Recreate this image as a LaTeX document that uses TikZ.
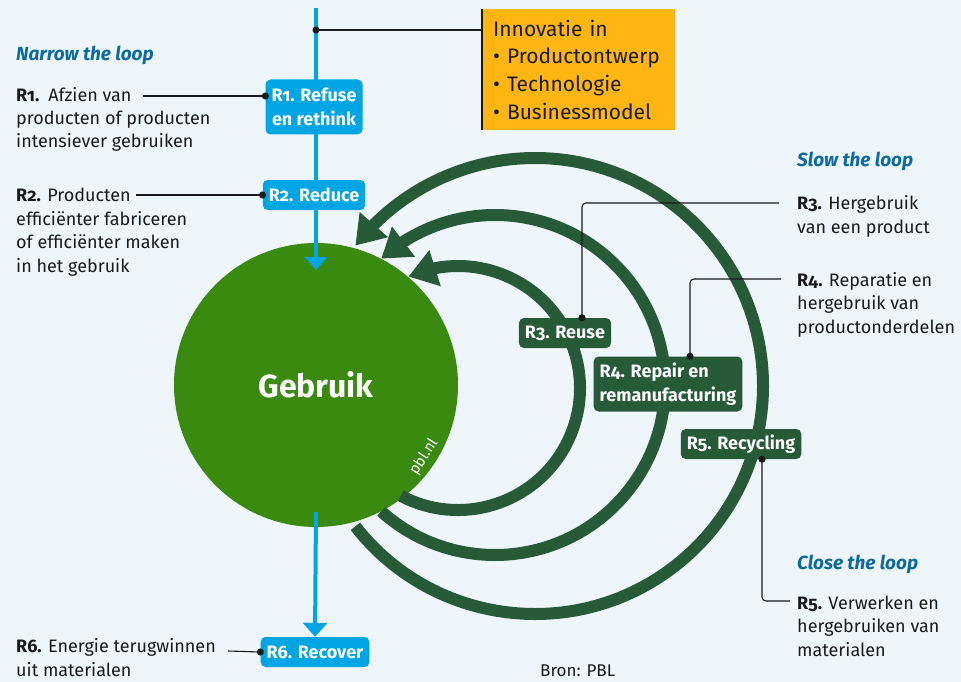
\documentclass[tikz,border=0pt]{standalone}
\usepackage{fontspec}
\setmainfont{Fira Sans}[RawFeature=+onum]
\usetikzlibrary{arrows.meta,bending,calc}
\definecolor{bg}{HTML}{EEF6FC}
\definecolor{skyb}{HTML}{00A6E4}
\definecolor{dgreen}{HTML}{275A37}
\definecolor{cgreen}{HTML}{3B8A10}
\definecolor{tblue}{HTML}{0B6AA0}
\definecolor{orng}{HTML}{FFB612}
\definecolor{txt}{HTML}{1A1A1A}
\tikzset{
  bluebox/.style={fill=skyb, text=white, rounded corners=5pt, font=\bfseries\fontsize{18}{24}\selectfont, inner xsep=6pt, inner ysep=2pt, minimum height=30pt, align=center},
  twoline/.style={minimum height=55pt},
  greenbox/.style={bluebox, fill=dgreen, align=left},
  desc/.style={anchor=base west, inner sep=0pt, align=left, font=\fontsize{18}{23.5}\selectfont, text=txt},
  loophead/.style={anchor=base west, inner sep=0pt, font=\bfseries\itshape\fontsize{19}{23}\selectfont, text=tblue},
  conn/.style={draw=txt, line width=1.1pt},
  enddot/.style={-{Circle[length=7pt]}, shorten >=-3.5pt},
  startdot/.style={{Circle[length=7pt]}-, shorten <=-3.5pt},
  loopline/.style={draw=dgreen, line width=12pt, -{Triangle[width=36pt,length=28pt]}},
  flow/.style={draw=skyb, line width=4pt},
}
\begin{document}
\begin{tikzpicture}[x=1pt,y=-1pt]
\fill[bg] (0,0) rectangle (961,682);
\useasboundingbox (0,0) rectangle (961,682);

% central circle
\node[circle, fill=cgreen, minimum size=284pt, inner sep=0pt, text=white, font=\bfseries\fontsize{32}{32}\selectfont] (use) at (316,385) {Gebruik};
\node[rotate=57, text=white, font=\fontsize{15}{15}\selectfont, inner sep=0pt] (pbl) at (424,457) {pbl.nl};

% loops
\coordinate (cin) at (458,388);
\coordinate (cmid) at (495,385);
\coordinate (cout) at (535,386);
\draw[loopline] ($(cin)+(118:122)$) arc[start angle=118, end angle=-114, radius=122];
\draw[loopline] ($(cmid)+(132:170)$) arc[start angle=132, end angle=-132, radius=170];
\draw[loopline] ($(cout)+(142:228)$) arc[start angle=142, end angle=-142, radius=228];

% top flow
\coordinate (top) at (316,8);
\coordinate (tip1) at (316,270);
\draw[flow, -{Triangle[width=22pt,length=13pt]}] (top) -- (tip1);

% boxes
\node[bluebox, twoline] (b1) at (314,107) {R1. Refuse\\en rethink};
\node[bluebox] (b2) at (314,195) {R2. Reduce};
\node[greenbox] (b3) at (565,333) {R3. Reuse};
\node[greenbox, twoline] (b4) at (668,384) {R4. Repair en\\remanufacturing};
\node[greenbox] (b5) at (741,444) {R5. Recycling};
\node[bluebox] (b6) at (315,652) {R6. Recover};

% bottom flow
\coordinate (bstart) at (316,512);
\draw[flow, -{Triangle[width=24pt,length=14pt]}] (bstart) -- (b6.north);

% innovation box
\node[fill=orng, anchor=north west, inner xsep=11pt, inner ysep=0pt, text width=171pt, minimum height=121pt, align=left, font=\fontsize{21}{27.7}\selectfont, text=txt] (innov) at (482,9) {Innovatie in\\\textbullet\hspace{7pt}Productontwerp\\\textbullet\hspace{7pt}Technologie\\\textbullet\hspace{7pt}Businessmodel};
\draw[conn] (innov.north west) -- (innov.south west);
\coordinate (d0) at (316,30);
\draw[conn, startdot] (d0) -- (innov.west |- d0);

% headings
\node[loophead] (narrow) at (16,61) {Narrow the loop};
\node[loophead] (slow) at (797,166) {Slow the loop};
\node[loophead] (close) at (797,569) {Close the loop};

% left descriptions (base = last line)
\node[desc] (t1) at (16,148) {\textbf{R1.}\hspace{0.5em}Afzien van\\producten of producten\\intensiever gebruiken};
\node[desc] (t2) at (16,272) {\textbf{R2.} Producten\\efficiënter fabriceren\\of efficiënter maken\\in het gebruik};
\node[desc] (t6) at (16,676) {\textbf{R6.} Energie terugwinnen\\uit materialen};

% right descriptions
\node[desc] (t3) at (797,233) {\textbf{R3.} Hergebruik\\van een product};
\node[desc] (t4) at (797,333) {\textbf{R4.} Reparatie en\\hergebruik van\\productonderdelen};
\node[desc] (t5) at (797,656) {\textbf{R5.} Verwerken en\\hergebruiken van\\materialen};

\node[desc, font=\fontsize{17}{18}\selectfont] (bron) at (540,676) {Bron: PBL};

% connectors
\coordinate (c1) at (143,96);
\draw[conn, enddot] (c1) -- (b1.west |- c1);
\coordinate (c2) at (136,195);
\draw[conn, enddot] (c2) -- (b2.west);
\coordinate (c6) at (228,651);
\draw[conn, enddot] (c6) -- (b6.west);
\coordinate (c3) at (779,203);
\draw[conn, enddot, rounded corners=4pt] (c3) -| ([xshift=17pt]b3.north);
\coordinate (c4) at (781,279);
\draw[conn, enddot, rounded corners=4pt] (c4) -| ([xshift=22pt]b4.north);
\coordinate (c5) at (790,601);
\draw[conn, startdot, rounded corners=4pt] ([xshift=21pt]b5.south) |- (c5);
\end{tikzpicture}
\end{document}
